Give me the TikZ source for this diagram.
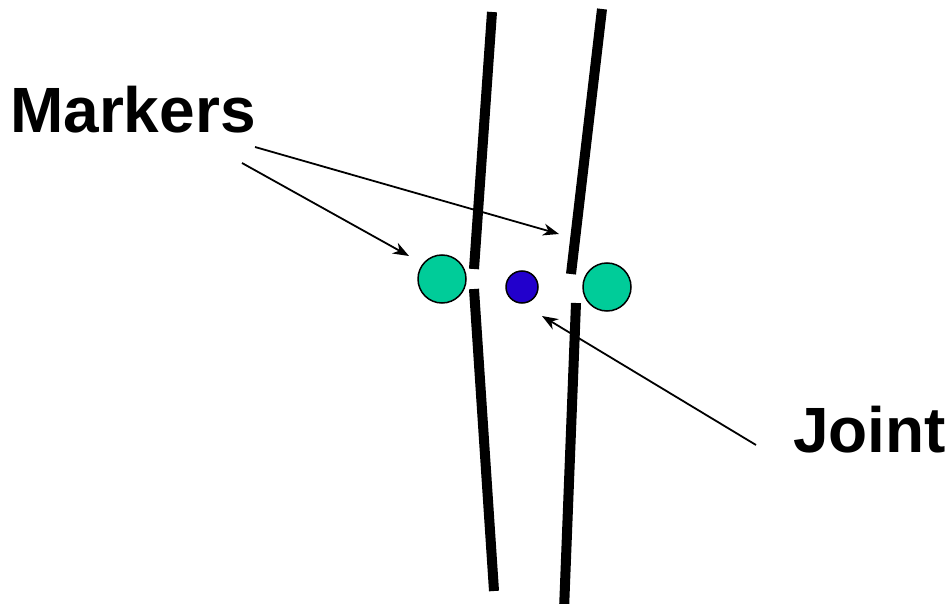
\documentclass[tikz,border=0pt]{standalone}
\usepackage{fontspec}
\setmainfont{Liberation Sans}
\usetikzlibrary{arrows.meta}
\definecolor{markgreen}{HTML}{00CC99}
\definecolor{jointblue}{HTML}{2200CC}
\begin{document}
\begin{tikzpicture}[x=1pt,y=-1pt,
  bone/.style={line width=10pt,line cap=butt},
  marker/.style={circle,draw=black,line width=1.5pt,fill=markgreen,minimum size=48pt,inner sep=0pt},
  jointdot/.style={circle,draw=black,line width=1.5pt,fill=jointblue,minimum size=32pt,inner sep=0pt},
  lbl/.style={font=\fontsize{64}{70}\selectfont\bfseries,inner sep=0pt,anchor=base west},
  pointer/.style={line width=1.8pt,-{Stealth[length=16pt,width=12pt,inset=5pt]}}]
\useasboundingbox (0,0) rectangle (950,604);
% bones
\coordinate (lut) at (492,12);
\coordinate (lub) at (474,269);
\coordinate (llt) at (474,289);
\coordinate (llb) at (494,591);
\coordinate (rut) at (602,9);
\coordinate (rub) at (571,274);
\coordinate (rlt) at (576,303);
\coordinate (rlb) at (564,610);
\draw[bone] (lut) -- (lub);
\draw[bone] (llt) -- (llb);
\draw[bone] (rut) -- (rub);
\draw[bone] (rlt) -- (rlb);
% markers and joint
\node[marker] (m1) at (442,279) {};
\node[marker] (m2) at (607,287) {};
\node[jointdot] (j) at (522,287) {};
% labels
\node[lbl] (markers) at (10,133) {Markers};
\node[lbl] (joint) at (793,452) {Joint};
% arrow ends
\coordinate (a1s) at (242,163);
\coordinate (a1e) at (409,256);
\coordinate (a2s) at (255,147);
\coordinate (a2e) at (559,234);
\coordinate (a3s) at (756,445);
\coordinate (a3e) at (542,316);
\draw[pointer] (a1s) -- (a1e);
\draw[pointer] (a2s) -- (a2e);
\draw[pointer] (a3s) -- (a3e);
\end{tikzpicture}
\end{document}
